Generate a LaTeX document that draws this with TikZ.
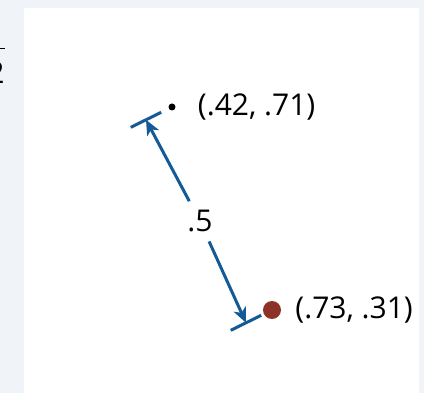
\documentclass[tikz,border=0pt]{standalone}
\usepackage{amsmath}
\usepackage{fontspec}
\setmainfont{Open Sans}
\usetikzlibrary{arrows.meta,positioning,calc}
\definecolor{bggray}{HTML}{F0F4F8}
\definecolor{dimblue}{HTML}{145A96}
\definecolor{ptred}{HTML}{8C3226}
\begin{document}
\begin{tikzpicture}[x=1pt, y=-1pt,
    dot/.style={circle, fill, inner sep=0pt},
    lbl/.style={inner sep=0pt, font=\fontsize{30}{34}\selectfont},
    dimarr/.style={-{Stealth[length=15pt, width=13pt, inset=4pt]}, dimblue, line width=3pt},
    tick/.style={dimblue, line width=3pt}
  ]
    % background and panel
    \fill[bggray] (0,0) rectangle (424,393);
    \fill[white] (24,8) rectangle (419,393);
    \useasboundingbox (0,0) rectangle (424,393);
    % clipped fraction at the left edge
    \node[lbl] (half) at (-4,50) {$\dfrac{\text{1}}{\text{\rule{0pt}{32pt}2}}$};
    % the two points
    \node[dot, minimum size=7pt] (p1) at (172,107) {};
    \node[dot, fill=ptred, minimum size=18pt] (p2) at (272,310) {};
    \node[lbl, anchor=west, right=22pt of p1] (p1lbl) {(.42, .71)};
    \node[lbl, anchor=west, right=14pt of p2] (p2lbl) {(.73, .31)};
    % dimension line
    \coordinate (t1) at ($(p1)!29pt!-90:(p2)$);
    \coordinate (t2) at ($(p2)!29pt!90:(p1)$);
    \draw[tick] ($(t1)!17pt!90:(t2)$) -- ($(t1)!17pt!-90:(t2)$);
    \draw[tick] ($(t2)!17pt!90:(t1)$) -- ($(t2)!17pt!-90:(t1)$);
    \node[lbl, inner sep=9pt, xshift=4pt] (dist) at ($(t1)!0.5!(t2)$) {.5};
    \draw[dimarr] (dist) -- (t1);
    \draw[dimarr] (dist) -- (t2);
\end{tikzpicture}
\end{document}
